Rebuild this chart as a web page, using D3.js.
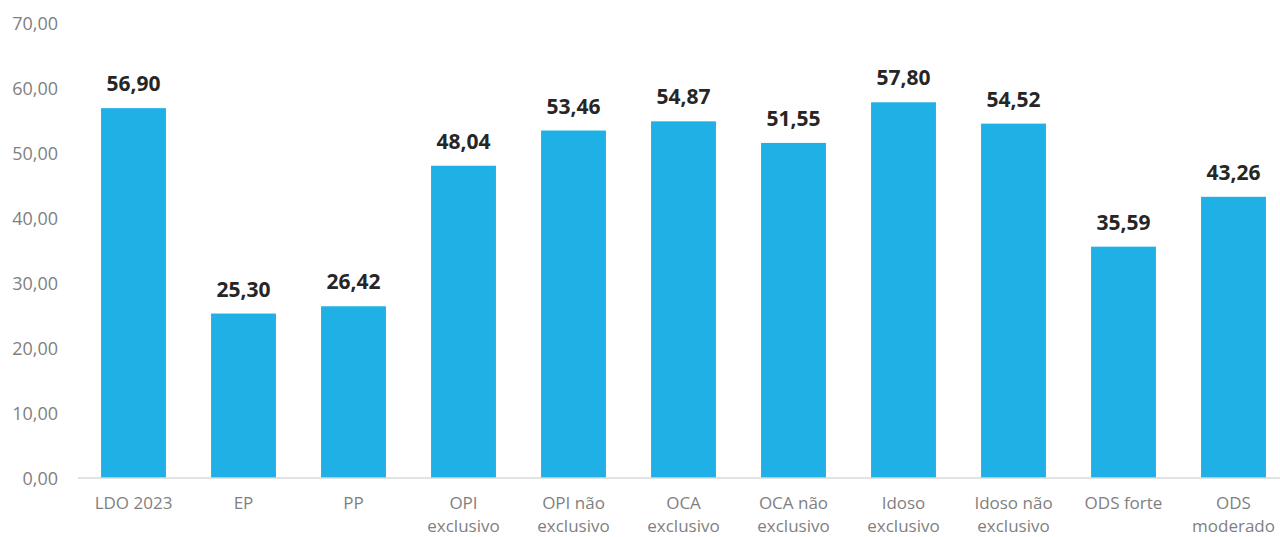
<!DOCTYPE html>
<html><head><meta charset="utf-8">
<script src="https://cdn.jsdelivr.net/npm/d3@7"></script>
<style>html,body{margin:0;padding:0;background:#fff;}svg{display:block;}</style>
</head><body>
<svg id="chart" width="1280" height="537"></svg>
<script>
const categories = [["LDO 2023"],["EP"],["PP"],["OPI","exclusivo"],["OPI não","exclusivo"],["OCA","exclusivo"],["OCA não","exclusivo"],["Idoso","exclusivo"],["Idoso não","exclusivo"],["ODS forte"],["ODS","moderado"]];
const values = [56.90,25.30,26.42,48.04,53.46,54.87,51.55,57.80,54.52,35.59,43.26];
const yTicks = [0,10,20,30,40,50,60,70];

const svg = d3.select("#chart");
const fmt = v => d3.format(".2f")(v).replace(".", ",");
const keys = categories.map(c => c.join(" "));

const x = d3.scaleBand().domain(keys).range([78.5, 1288.5]).paddingInner(0.41).paddingOuter(0.205);
const y = d3.scaleLinear().domain([0,70]).range([478, 23]);

// y tick labels
const yAxis = svg.append("g").attr("transform","translate(58,1)")
  .call(d3.axisLeft(y).tickValues(yTicks).tickFormat(fmt).tickSize(0).tickPadding(0));
yAxis.select(".domain").remove();
yAxis.selectAll("text").attr("font-family","'Open Sans', sans-serif").attr("font-size",18).attr("fill","#7f7f7f");

// bars
svg.append("g").selectAll("rect").data(values).join("rect")
  .attr("x",(d,i)=>x(keys[i])).attr("width",x.bandwidth())
  .attr("y",d=>y(d)).attr("height",d=>y(0)-y(d)).attr("fill","#1FB0E6");

// baseline
const xAxis = svg.append("g").attr("transform",`translate(0,${y(0)})`)
  .call(d3.axisBottom(x).tickSize(0).tickFormat(""));
xAxis.select(".domain").attr("stroke","#d9d9d9").attr("stroke-width",1.5).attr("d","M78,0H1280");

// category labels
const cl = svg.append("g").selectAll("text").data(categories).join("text")
  .attr("x",(d,i)=>x(keys[i])+x.bandwidth()/2).attr("y",508.5)
  .attr("text-anchor","middle").attr("font-family","'Open Sans', sans-serif")
  .attr("font-size",17).attr("fill","#7f7f7f");
cl.each(function(d){
  const t = d3.select(this);
  d.forEach((line,j)=>t.append("tspan").attr("x",t.attr("x")).attr("dy",j===0?0:23.3).text(line));
});

// value labels
svg.append("g").selectAll("text").data(values).join("text")
  .attr("x",(d,i)=>x(keys[i])+x.bandwidth()/2).attr("y",d=>y(d)-17)
  .attr("text-anchor","middle").attr("font-family","'Open Sans', sans-serif")
  .attr("font-size",21).attr("font-weight","bold").attr("fill","#262626")
  .text(fmt);
</script>
</body></html>
